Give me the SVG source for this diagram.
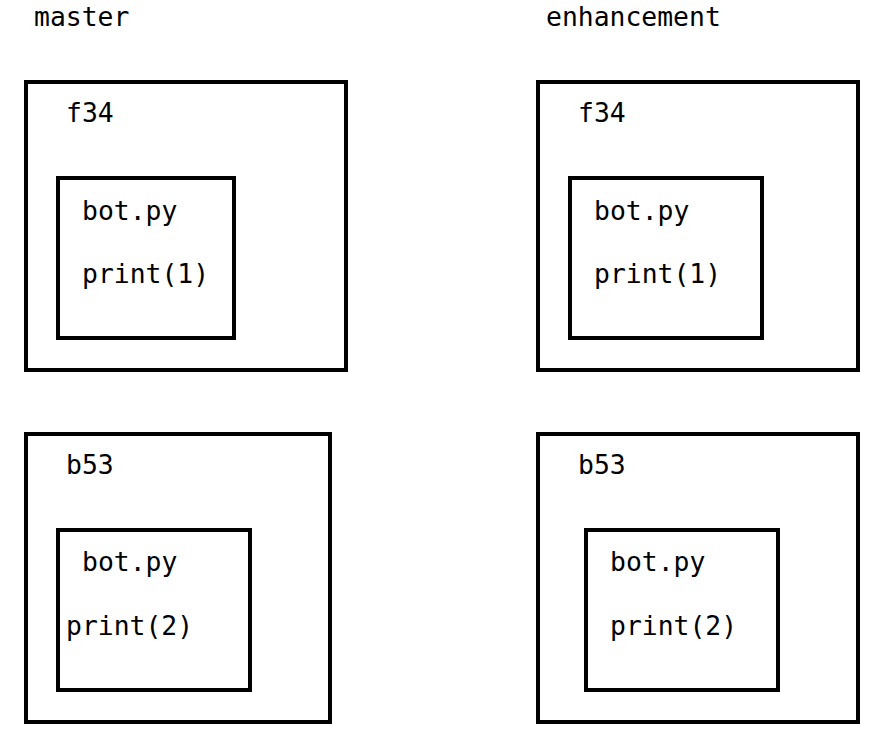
<svg xmlns="http://www.w3.org/2000/svg" width="880" height="742" viewBox="0 0 880 742">
<style>
.box{fill:none;stroke:#000;stroke-width:4}
text{font-family:"DejaVu Sans Mono",monospace;font-size:26.4px;fill:#000}
</style>
<rect x="0" y="0" width="880" height="742" fill="#fff"/>
<g id="label-master"><text x="34" y="26">master</text></g>
<g id="label-enhancement"><text x="546" y="26">enhancement</text></g>
<g id="master-f34">
<rect class="box" x="26" y="82" width="320" height="288"/>
<text x="66" y="122">f34</text>
<g id="master-f34-bot">
<rect class="box" x="58" y="178" width="176" height="160"/>
<text x="82" y="220">bot.py</text>
<text x="82" y="283">print(1)</text>
</g>
</g>
<g id="master-b53">
<rect class="box" x="26" y="434" width="304" height="288"/>
<text x="66" y="474">b53</text>
<g id="master-b53-bot">
<rect class="box" x="58" y="530" width="192" height="160"/>
<text x="82" y="571">bot.py</text>
<text x="66" y="635">print(2)</text>
</g>
</g>
<g id="enh-f34">
<rect class="box" x="538" y="82" width="320" height="288"/>
<text x="578" y="122">f34</text>
<g id="enh-f34-bot">
<rect class="box" x="570" y="178" width="192" height="160"/>
<text x="594" y="220">bot.py</text>
<text x="594" y="283">print(1)</text>
</g>
</g>
<g id="enh-b53">
<rect class="box" x="538" y="434" width="320" height="288"/>
<text x="578" y="474">b53</text>
<g id="enh-b53-bot">
<rect class="box" x="586" y="530" width="192" height="160"/>
<text x="610" y="571">bot.py</text>
<text x="610" y="635">print(2)</text>
</g>
</g>
<g id="connectors"></g>
</svg>
